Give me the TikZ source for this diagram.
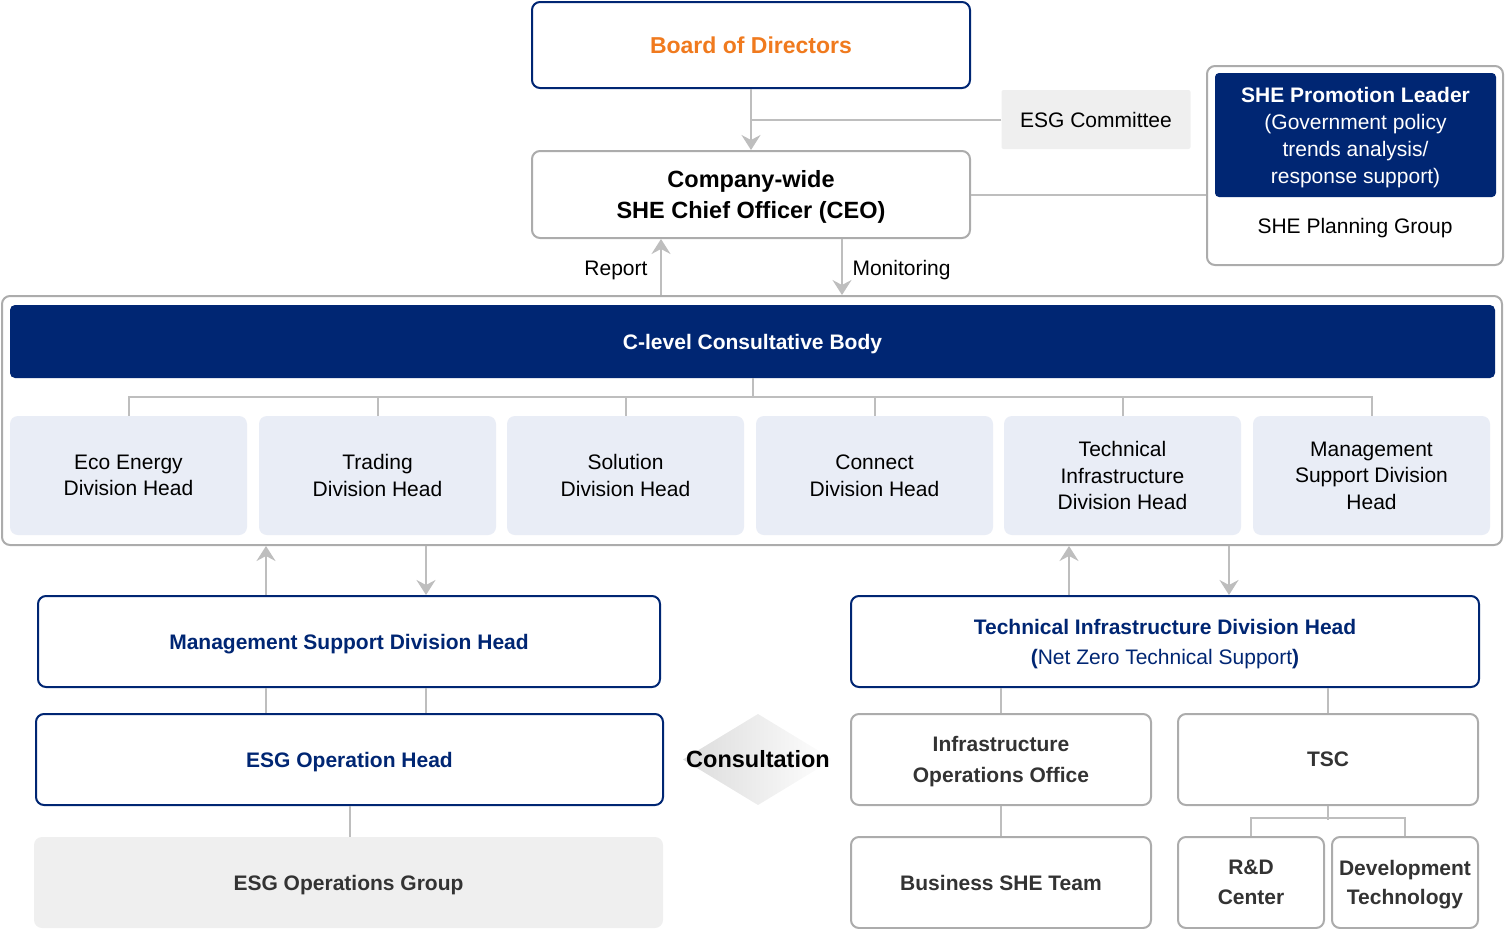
\documentclass[tikz,border=0pt]{standalone}
\usepackage{fontspec}
\setmainfont{Liberation Sans}
\usetikzlibrary{arrows.meta,calc,shapes.geometric}
\definecolor{navy}{RGB}{0,38,115}
\definecolor{orng}{RGB}{240,122,30}
\definecolor{lgray}{RGB}{190,190,190}
\definecolor{bgray}{RGB}{172,172,172}
\definecolor{lblue}{RGB}{233,237,246}
\definecolor{fgray}{RGB}{239,239,239}
\definecolor{dtext}{RGB}{51,51,51}
\tikzset{
  sz/.style 2 args={minimum width=#1, minimum height=#2},
  reg/.style={font=\fontsize{21}{27}\selectfont},
  bld/.style={font=\fontsize{21}{27}\selectfont\bfseries},
  base/.style={rectangle, rounded corners=8pt, align=center, inner sep=0pt, text depth=0pt},
  navybox/.style={base, draw=navy, line width=2pt, fill=white, text=navy, bld},
  graybox/.style={base, draw=bgray, line width=2pt, fill=white},
  darkbox/.style={graybox, text=dtext, font=\fontsize{21}{31}\selectfont\bfseries},
  divbox/.style={base, fill=lblue, sz={237pt}{119pt}, reg, font=\fontsize{21}{26.5}\selectfont},
  conn/.style={draw=lgray, line width=2pt},
  arr/.style={conn, -{Stealth[length=15pt,width=19pt,inset=5pt]}},
}
\begin{document}
\begin{tikzpicture}[x=1pt,y=-1pt]
\useasboundingbox (0,0) rectangle (1505,929);

% top
\node[navybox, sz={438pt}{86pt}, text=orng, font=\fontsize{23}{28}\selectfont\bfseries] (bod) at (751,45) {Board of Directors};
\node[base, rounded corners=2pt, fill=fgray, sz={189pt}{59pt}, reg] (esgc) at (1096,119.5) {ESG Committee};
\node[graybox, sz={438pt}{87pt}, font=\fontsize{23.5}{31}\selectfont\bfseries] (ceo) at (751,194.5) {Company-wide\\SHE Chief Officer (CEO)};

\node[graybox, sz={296pt}{199pt}] (she) at (1355,165.5) {};
\node[base, rounded corners=4pt, fill=navy, sz={281pt}{124pt}, text=white, reg] (shel) at (1355.5,135) {\textbf{SHE Promotion Leader}\\(Government policy\\trends analysis/\\response support)};
\node[reg] (shpg) at (1355,228) {SHE Planning Group};

\draw[arr] (bod.south) -- (ceo.north);
\draw[conn] (esgc.west) -- (esgc.west -| bod.south);
\draw[conn] (ceo.east) -- (ceo.east -| she.west);

% big box
\node[graybox, sz={1500pt}{249pt}] (big) at (752,420.5) {};
\node[base, rounded corners=5pt, fill=navy, sz={1485pt}{73pt}, text=white, bld] (cl) at (752.5,341.5) {C-level Consultative Body};

\node[divbox] (d1) at (128.5,475.5) {Eco Energy\\Division Head};
\node[divbox] (d2) at (377.5,475.5) {Trading\\Division Head};
\node[divbox] (d3) at (625.5,475.5) {Solution\\Division Head};
\node[divbox] (d4) at (874.5,475.5) {Connect\\Division Head};
\node[divbox] (d5) at (1122.5,475.5) {Technical\\Infrastructure\\Division Head};
\node[divbox] (d6) at (1371.5,475.5) {Management\\Support Division\\Head};

\draw[conn] (cl.south) -- ++(0,19);
\draw[conn] (d1.north) -- ++(0,-19) -| (d6.north);
\foreach \d in {d2,d3,d4,d5} \draw[conn] (\d.north) -- ++(0,-19);

% report / monitoring
\coordinate (rx) at (661,0);
\coordinate (mx) at (842,0);
\draw[arr] (rx |- big.north) -- (rx |- ceo.south);
\draw[arr] (mx |- ceo.south) -- (mx |- big.north);
\node[reg, anchor=east] (rep) at (651,270) {Report};
\node[reg, anchor=west] (mon) at (849,270) {Monitoring};

% left bottom
\node[navybox, sz={622pt}{91pt}] (msd) at (349,641.5) {Management Support Division Head};
\node[navybox, sz={627pt}{91pt}] (esgop) at (349.5,759.5) {ESG Operation Head};
\node[base, fill=fgray, sz={629pt}{91pt}, text=dtext, bld] (esggrp) at (348.5,882.5) {ESG Operations Group};

\coordinate (a1) at (266,0);
\coordinate (a2) at (426,0);
\draw[arr] (a1 |- msd.north) -- (a1 |- big.south);
\draw[arr] (a2 |- big.south) -- (a2 |- msd.north);
\draw[conn] (a1 |- msd.south) -- (a1 |- esgop.north);
\draw[conn] (a2 |- msd.south) -- (a2 |- esgop.north);
\draw[conn] (esgop.south) -- (esgop.south |- esggrp.north);

% consultation
\shade[left color=black!14, right color=white] (683,759.5) -- (758,714) -- (833,759.5) -- (758,805) -- cycle;
\node[font=\fontsize{23.5}{28}\selectfont\bfseries] (cons) at (758,759.5) {Consultation};

% right bottom
\node[navybox, sz={628pt}{91pt}, font=\fontsize{21}{30}\selectfont\bfseries] (tid) at (1165,641.5) {Technical Infrastructure Division Head\\{\mdseries\textbf{(}Net Zero Technical Support\textbf{)}}};
\node[darkbox, sz={300pt}{91pt}] (ioo) at (1001,759.5) {Infrastructure\\Operations Office};
\node[darkbox, sz={300pt}{91pt}] (tsc) at (1328,759.5) {TSC};
\node[darkbox, sz={300pt}{91pt}] (bst) at (1001,882.5) {Business SHE Team};
\node[darkbox, sz={146pt}{91pt}, font=\fontsize{21}{30}\selectfont\bfseries] (rd) at (1251,882.5) {R\&D\\Center};
\node[darkbox, sz={146pt}{91pt}, font=\fontsize{21}{29}\selectfont\bfseries] (dt) at (1405,882.5) {Development\\Technology};

\coordinate (b1) at (1069,0);
\coordinate (b2) at (1229,0);
\draw[arr] (b1 |- tid.north) -- (b1 |- big.south);
\draw[arr] (b2 |- big.south) -- (b2 |- tid.north);
\draw[conn] (ioo.north) -- (ioo.north |- tid.south);
\draw[conn] (tsc.north) -- (tsc.north |- tid.south);
\draw[conn] (ioo.south) -- (bst.north);
\draw[conn] (tsc.south) -- ++(0,14);
\draw[conn] (rd.north) -- ++(0,-18) -| (dt.north);
\end{tikzpicture}
\end{document}
